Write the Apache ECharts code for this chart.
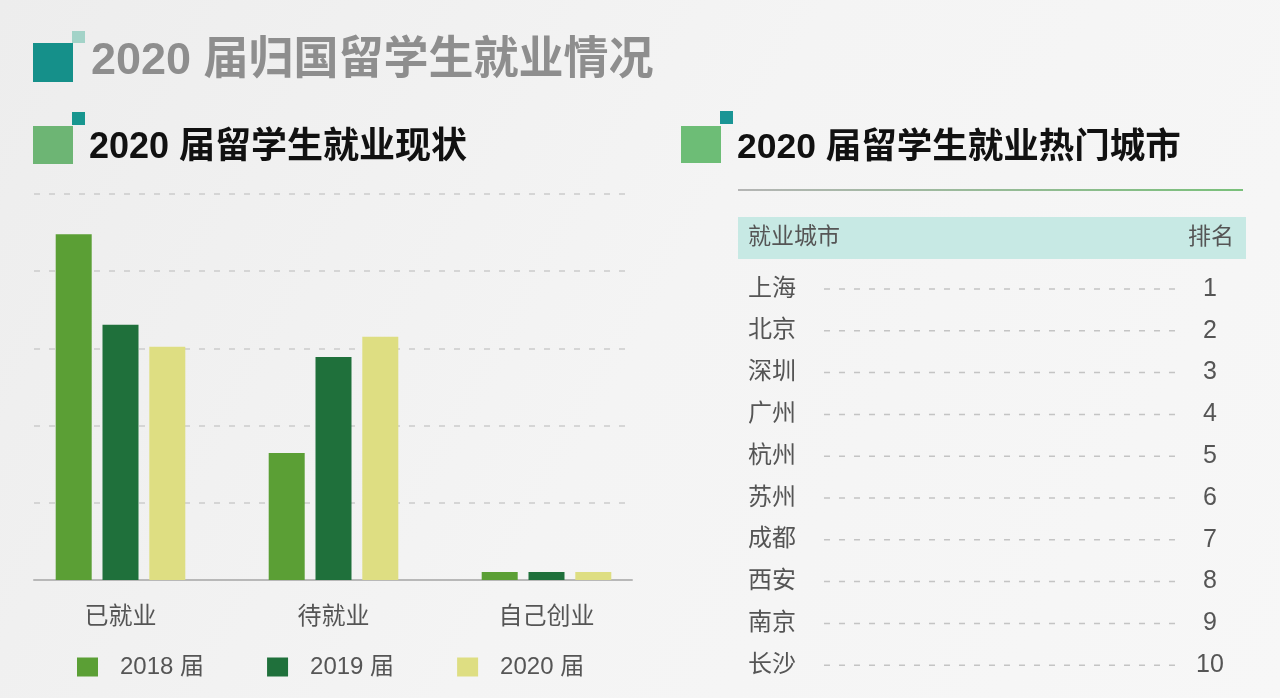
<!DOCTYPE html>
<html>
<head>
<meta charset="utf-8">
<script src="https://cdn.jsdelivr.net/npm/echarts@6/dist/echarts.min.js"></script>
<style>
html,body{margin:0;padding:0;width:1280px;height:698px;overflow:hidden;}
#main{width:1280px;height:698px;}
</style>
</head>
<body>
<div id="main"></div>
<script>
// ---- data ----
var mainTitle = '2020 届归国留学生就业情况';
var leftTitle = '2020 届留学生就业现状';
var rightTitle = '2020 届留学生就业热门城市';
var categories = ['已就业', '待就业', '自己创业'];
var seriesNames = ['2018 届', '2019 届', '2020 届'];
var values2018 = [89.6, 32.9, 2.1];
var values2019 = [66.1, 57.8, 2.1];
var values2020 = [60.4, 63.0, 2.1];
var tableHeader = ['就业城市', '排名'];
var cities = ['上海', '北京', '深圳', '广州', '杭州', '苏州', '成都', '西安', '南京', '长沙'];
var ranks = ['1', '2', '3', '4', '5', '6', '7', '8', '9', '10'];

var FONT = '"Liberation Sans", "Noto Sans CJK SC", sans-serif';
var colors = ['#5b9f35', '#1f703b', '#dede82'];

var chart = echarts.init(document.getElementById('main'), null, {renderer: 'canvas'});

var graphics = [];
function rect(x, y, w, h, fill) {
  graphics.push({type: 'rect', shape: {x: x, y: y, width: w, height: h}, style: {fill: fill}, silent: true});
}
function text(t, x, y, size, fill, weight, align) {
  graphics.push({type: 'text', x: x, y: y, silent: true,
    style: {text: t, fontSize: size, fontWeight: weight || 'normal', fontFamily: FONT, fill: fill,
      textAlign: align || 'left', textVerticalAlign: 'middle'}});
}
// headings
rect(33, 43, 40, 39, '#15908a');
rect(72, 31, 13, 12, '#a3d3c8');
text(mainTitle, 91, 62, 45, '#8e8e8e', 'bold');
rect(33, 126, 40, 38, '#6db574');
rect(72, 112, 13, 13, '#17968f');
text(leftTitle, 89, 148, 36, '#111111', 'bold');
rect(681, 126, 40, 37, '#6dbd76');
rect(720, 111, 13, 13, '#1a9595');
text(rightTitle, 737, 148, 35.5, '#111111', 'bold');
// table
graphics.push({type: 'line', silent: true, shape: {x1: 738, y1: 190, x2: 1243, y2: 190},
  style: {lineWidth: 2, stroke: new echarts.graphic.LinearGradient(0, 0, 1, 0, [
    {offset: 0, color: '#b5b5b5'}, {offset: 1, color: '#79c07a'}])}});
rect(738, 217, 508, 42, '#c7e9e4');
text(tableHeader[0], 748, 238, 23, '#555555');
text(tableHeader[1], 1234, 238, 23, '#555555', 'normal', 'right');
cities.forEach(function (c, i) {
  var y = 289 + i * 41.8;
  text(c, 748, y, 24, '#555555');
  text(ranks[i], 1210, y, 25, '#555555', 'normal', 'center');
  graphics.push({type: 'line', silent: true, shape: {x1: 824, y1: y, x2: 1176, y2: y},
    style: {stroke: '#c4c4c4', lineWidth: 1.5, lineDash: [6, 9]}});
});

var option = {
  backgroundColor: new echarts.graphic.LinearGradient(0, 0, 1, 1, [
    {offset: 0, color: '#ededed'}, {offset: 0.5, color: '#f4f4f4'}, {offset: 1, color: '#f7f7f7'}]),
  animation: false,
  legend: {
    left: 72, top: 650,
    itemWidth: 21, itemHeight: 19, itemGap: 63,
    icon: 'rect',
    data: seriesNames,
    textStyle: {fontSize: 24, color: '#555555', fontFamily: FONT, padding: [0, 0, 0, 17]}
  },
  grid: [
    {left: 14, right: 627, top: 194, bottom: 118},
    {left: 34, right: 648, top: 194, bottom: 118}
  ],
  xAxis: [
    {type: 'category', gridIndex: 0, data: categories,
      axisLine: {show: false}, axisTick: {show: false},
      axisLabel: {fontSize: 24, color: '#555555', fontFamily: FONT, margin: 25}},
    {type: 'value', gridIndex: 1, min: 0, max: 1,
      axisLine: {show: true, lineStyle: {color: '#b8b8b8', width: 2}},
      axisTick: {show: false}, axisLabel: {show: false}, splitLine: {show: false}}
  ],
  yAxis: [
    {type: 'value', gridIndex: 0, min: 0, max: 100, interval: 20, show: false, splitLine: {show: false}},
    {type: 'value', gridIndex: 1, min: 0, max: 100, interval: 20,
      axisLine: {show: false}, axisTick: {show: false}, axisLabel: {show: false},
      splitLine: {show: true, lineStyle: {color: '#cccccc', type: [6, 9], width: 1.5}}}
  ],
  series: [values2018, values2019, values2020].map(function (v, i) {
    return {name: seriesNames[i], type: 'bar', xAxisIndex: 0, yAxisIndex: 0, data: v,
      barWidth: 36, barGap: '30%', itemStyle: {color: colors[i]}, z: 3};
  }),
  graphic: graphics
};
chart.setOption(option);
</script>
</body>
</html>
